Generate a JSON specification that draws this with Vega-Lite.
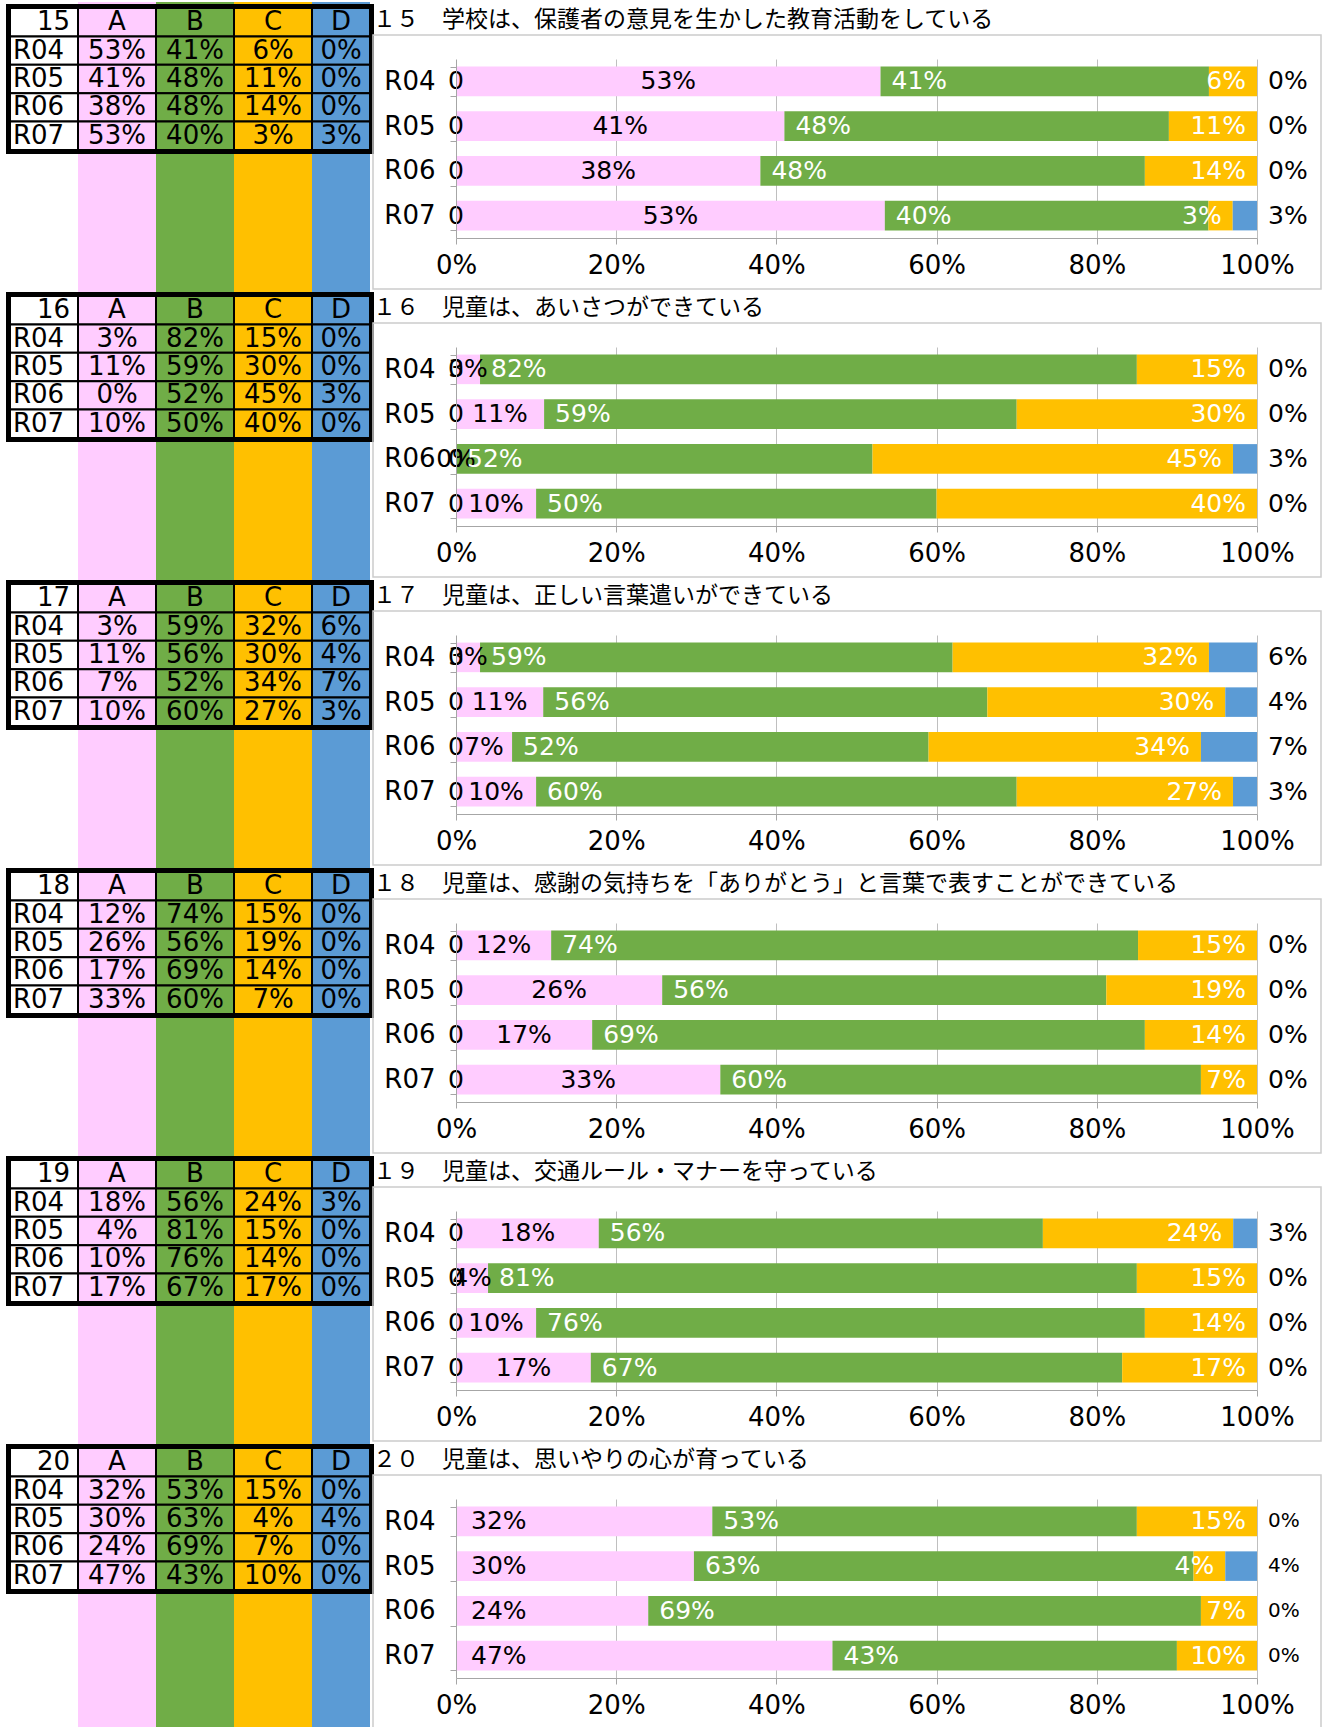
{
"$schema": "https://vega.github.io/schema/vega-lite/v6.json",
"padding": {"top": -12, "left": 0, "right": 0, "bottom": 0},
"datasets": {"d": [
{"p":15,"yr":"ttl","cat":"ttl","t":"１５　学校は、保護者の意見を生かした教育活動をしている"},
{"p":15,"yr":"hdr","cat":"lbl"},{"p":15,"yr":"hdr","cat":"A"},{"p":15,"yr":"hdr","cat":"B"},{"p":15,"yr":"hdr","cat":"C"},{"p":15,"yr":"hdr","cat":"D"},
{"p":15,"yr":"R04","cat":"lbl"},{"p":15,"yr":"R05","cat":"lbl"},{"p":15,"yr":"R06","cat":"lbl"},{"p":15,"yr":"R07","cat":"lbl"},
{"p":15,"yr":"R04","cat":"A","v":0.53},{"p":15,"yr":"R04","cat":"B","v":0.41},{"p":15,"yr":"R04","cat":"C","v":0.06},{"p":15,"yr":"R04","cat":"D","v":0},
{"p":15,"yr":"R05","cat":"A","v":0.41},{"p":15,"yr":"R05","cat":"B","v":0.48},{"p":15,"yr":"R05","cat":"C","v":0.11},{"p":15,"yr":"R05","cat":"D","v":0},
{"p":15,"yr":"R06","cat":"A","v":0.38},{"p":15,"yr":"R06","cat":"B","v":0.48},{"p":15,"yr":"R06","cat":"C","v":0.14},{"p":15,"yr":"R06","cat":"D","v":0},
{"p":15,"yr":"R07","cat":"A","v":0.53},{"p":15,"yr":"R07","cat":"B","v":0.40},{"p":15,"yr":"R07","cat":"C","v":0.03},{"p":15,"yr":"R07","cat":"D","v":0.03},
{"p":15,"yr":"R04","cat":"E","v":0},{"p":15,"yr":"R05","cat":"E","v":0},{"p":15,"yr":"R06","cat":"E","v":0},{"p":15,"yr":"R07","cat":"E","v":0},

{"p":16,"yr":"ttl","cat":"ttl","t":"１６　児童は、あいさつができている"},
{"p":16,"yr":"hdr","cat":"lbl"},{"p":16,"yr":"hdr","cat":"A"},{"p":16,"yr":"hdr","cat":"B"},{"p":16,"yr":"hdr","cat":"C"},{"p":16,"yr":"hdr","cat":"D"},
{"p":16,"yr":"R04","cat":"lbl"},{"p":16,"yr":"R05","cat":"lbl"},{"p":16,"yr":"R06","cat":"lbl"},{"p":16,"yr":"R07","cat":"lbl"},
{"p":16,"yr":"R04","cat":"A","v":0.03},{"p":16,"yr":"R04","cat":"B","v":0.82},{"p":16,"yr":"R04","cat":"C","v":0.15},{"p":16,"yr":"R04","cat":"D","v":0},
{"p":16,"yr":"R05","cat":"A","v":0.11},{"p":16,"yr":"R05","cat":"B","v":0.59},{"p":16,"yr":"R05","cat":"C","v":0.30},{"p":16,"yr":"R05","cat":"D","v":0},
{"p":16,"yr":"R06","cat":"A","v":0},{"p":16,"yr":"R06","cat":"B","v":0.52},{"p":16,"yr":"R06","cat":"C","v":0.45},{"p":16,"yr":"R06","cat":"D","v":0.03},
{"p":16,"yr":"R07","cat":"A","v":0.10},{"p":16,"yr":"R07","cat":"B","v":0.50},{"p":16,"yr":"R07","cat":"C","v":0.40},{"p":16,"yr":"R07","cat":"D","v":0},
{"p":16,"yr":"R04","cat":"E","v":0},{"p":16,"yr":"R05","cat":"E","v":0},{"p":16,"yr":"R06","cat":"E","v":0},{"p":16,"yr":"R07","cat":"E","v":0},

{"p":17,"yr":"ttl","cat":"ttl","t":"１７　児童は、正しい言葉遣いができている"},
{"p":17,"yr":"hdr","cat":"lbl"},{"p":17,"yr":"hdr","cat":"A"},{"p":17,"yr":"hdr","cat":"B"},{"p":17,"yr":"hdr","cat":"C"},{"p":17,"yr":"hdr","cat":"D"},
{"p":17,"yr":"R04","cat":"lbl"},{"p":17,"yr":"R05","cat":"lbl"},{"p":17,"yr":"R06","cat":"lbl"},{"p":17,"yr":"R07","cat":"lbl"},
{"p":17,"yr":"R04","cat":"A","v":0.03},{"p":17,"yr":"R04","cat":"B","v":0.59},{"p":17,"yr":"R04","cat":"C","v":0.32},{"p":17,"yr":"R04","cat":"D","v":0.06},
{"p":17,"yr":"R05","cat":"A","v":0.11},{"p":17,"yr":"R05","cat":"B","v":0.56},{"p":17,"yr":"R05","cat":"C","v":0.30},{"p":17,"yr":"R05","cat":"D","v":0.04},
{"p":17,"yr":"R06","cat":"A","v":0.07},{"p":17,"yr":"R06","cat":"B","v":0.52},{"p":17,"yr":"R06","cat":"C","v":0.34},{"p":17,"yr":"R06","cat":"D","v":0.07},
{"p":17,"yr":"R07","cat":"A","v":0.10},{"p":17,"yr":"R07","cat":"B","v":0.60},{"p":17,"yr":"R07","cat":"C","v":0.27},{"p":17,"yr":"R07","cat":"D","v":0.03},
{"p":17,"yr":"R04","cat":"E","v":0},{"p":17,"yr":"R05","cat":"E","v":0},{"p":17,"yr":"R06","cat":"E","v":0},{"p":17,"yr":"R07","cat":"E","v":0},

{"p":18,"yr":"ttl","cat":"ttl","t":"１８　児童は、感謝の気持ちを「ありがとう」と言葉で表すことができている"},
{"p":18,"yr":"hdr","cat":"lbl"},{"p":18,"yr":"hdr","cat":"A"},{"p":18,"yr":"hdr","cat":"B"},{"p":18,"yr":"hdr","cat":"C"},{"p":18,"yr":"hdr","cat":"D"},
{"p":18,"yr":"R04","cat":"lbl"},{"p":18,"yr":"R05","cat":"lbl"},{"p":18,"yr":"R06","cat":"lbl"},{"p":18,"yr":"R07","cat":"lbl"},
{"p":18,"yr":"R04","cat":"A","v":0.12},{"p":18,"yr":"R04","cat":"B","v":0.74},{"p":18,"yr":"R04","cat":"C","v":0.15},{"p":18,"yr":"R04","cat":"D","v":0},
{"p":18,"yr":"R05","cat":"A","v":0.26},{"p":18,"yr":"R05","cat":"B","v":0.56},{"p":18,"yr":"R05","cat":"C","v":0.19},{"p":18,"yr":"R05","cat":"D","v":0},
{"p":18,"yr":"R06","cat":"A","v":0.17},{"p":18,"yr":"R06","cat":"B","v":0.69},{"p":18,"yr":"R06","cat":"C","v":0.14},{"p":18,"yr":"R06","cat":"D","v":0},
{"p":18,"yr":"R07","cat":"A","v":0.33},{"p":18,"yr":"R07","cat":"B","v":0.60},{"p":18,"yr":"R07","cat":"C","v":0.07},{"p":18,"yr":"R07","cat":"D","v":0},
{"p":18,"yr":"R04","cat":"E","v":0},{"p":18,"yr":"R05","cat":"E","v":0},{"p":18,"yr":"R06","cat":"E","v":0},{"p":18,"yr":"R07","cat":"E","v":0},

{"p":19,"yr":"ttl","cat":"ttl","t":"１９　児童は、交通ルール・マナーを守っている"},
{"p":19,"yr":"hdr","cat":"lbl"},{"p":19,"yr":"hdr","cat":"A"},{"p":19,"yr":"hdr","cat":"B"},{"p":19,"yr":"hdr","cat":"C"},{"p":19,"yr":"hdr","cat":"D"},
{"p":19,"yr":"R04","cat":"lbl"},{"p":19,"yr":"R05","cat":"lbl"},{"p":19,"yr":"R06","cat":"lbl"},{"p":19,"yr":"R07","cat":"lbl"},
{"p":19,"yr":"R04","cat":"A","v":0.18},{"p":19,"yr":"R04","cat":"B","v":0.56},{"p":19,"yr":"R04","cat":"C","v":0.24},{"p":19,"yr":"R04","cat":"D","v":0.03},
{"p":19,"yr":"R05","cat":"A","v":0.04},{"p":19,"yr":"R05","cat":"B","v":0.81},{"p":19,"yr":"R05","cat":"C","v":0.15},{"p":19,"yr":"R05","cat":"D","v":0},
{"p":19,"yr":"R06","cat":"A","v":0.10},{"p":19,"yr":"R06","cat":"B","v":0.76},{"p":19,"yr":"R06","cat":"C","v":0.14},{"p":19,"yr":"R06","cat":"D","v":0},
{"p":19,"yr":"R07","cat":"A","v":0.17},{"p":19,"yr":"R07","cat":"B","v":0.67},{"p":19,"yr":"R07","cat":"C","v":0.17},{"p":19,"yr":"R07","cat":"D","v":0},
{"p":19,"yr":"R04","cat":"E","v":0},{"p":19,"yr":"R05","cat":"E","v":0},{"p":19,"yr":"R06","cat":"E","v":0},{"p":19,"yr":"R07","cat":"E","v":0},

{"p":20,"yr":"ttl","cat":"ttl","t":"２０　児童は、思いやりの心が育っている"},
{"p":20,"yr":"hdr","cat":"lbl"},{"p":20,"yr":"hdr","cat":"A"},{"p":20,"yr":"hdr","cat":"B"},{"p":20,"yr":"hdr","cat":"C"},{"p":20,"yr":"hdr","cat":"D"},
{"p":20,"yr":"R04","cat":"lbl"},{"p":20,"yr":"R05","cat":"lbl"},{"p":20,"yr":"R06","cat":"lbl"},{"p":20,"yr":"R07","cat":"lbl"},
{"p":20,"yr":"R04","cat":"A","v":0.32},{"p":20,"yr":"R04","cat":"B","v":0.53},{"p":20,"yr":"R04","cat":"C","v":0.15},{"p":20,"yr":"R04","cat":"D","v":0},
{"p":20,"yr":"R05","cat":"A","v":0.30},{"p":20,"yr":"R05","cat":"B","v":0.63},{"p":20,"yr":"R05","cat":"C","v":0.04},{"p":20,"yr":"R05","cat":"D","v":0.04},
{"p":20,"yr":"R06","cat":"A","v":0.24},{"p":20,"yr":"R06","cat":"B","v":0.69},{"p":20,"yr":"R06","cat":"C","v":0.07},{"p":20,"yr":"R06","cat":"D","v":0},
{"p":20,"yr":"R07","cat":"A","v":0.47},{"p":20,"yr":"R07","cat":"B","v":0.43},{"p":20,"yr":"R07","cat":"C","v":0.10},{"p":20,"yr":"R07","cat":"D","v":0}
]},
"data": {"name": "d"},
"facet": {"row": {"field": "p", "type": "ordinal", "header": {"labels": false, "title": null}}},
"spacing": {"row": 0},
"bounds": "flush",
"resolve": {"scale": {"x": "independent", "y": "independent"}, "axis": {"x": "independent", "y": "independent"}},
"spec": {
"width": 1320, "height": 288,
"view": {"stroke": "transparent"},
"resolve": {"scale": {"x": "independent", "y": "independent"}, "axis": {"x": "independent", "y": "independent"}},
"layer": [
{"transform": [{"filter": "datum.yr === 'hdr' && indexof(['A','B','C'], datum.cat) >= 0"}],
 "mark": "rect",
 "encoding": {
  "x": {"field": "cat", "type": "nominal", "scale": {"type": "band", "domain": ["A","B","C"], "range": [77,311], "paddingInner": 0, "paddingOuter": 0}, "axis": null},
  "color": {"field": "cat", "type": "nominal", "scale": {"domain": ["A","B","C","D"], "range": ["#FFCCFF","#70AD47","#FFC000","#5B9BD5"]}, "legend": null}}},
{"transform": [{"filter": "datum.yr === 'hdr' && datum.cat === 'D'"}],
 "mark": "rect",
 "encoding": {
  "x": {"field": "cat", "type": "nominal", "scale": {"type": "band", "domain": ["D"], "range": [311,369], "paddingInner": 0, "paddingOuter": 0}, "axis": null},
  "color": {"field": "cat", "type": "nominal", "scale": {"domain": ["A","B","C","D"], "range": ["#FFCCFF","#70AD47","#FFC000","#5B9BD5"]}, "legend": null}}},
{"transform": [{"filter": "datum.cat === 'lbl'"}],
 "mark": {"type": "rect", "fill": "black", "stroke": "black", "strokeWidth": 8},
 "encoding": {
  "x": {"field": "cat", "type": "nominal", "scale": {"type": "band", "domain": ["lbl"], "range": [9,77], "paddingInner": 0, "paddingOuter": 0}, "axis": null},
  "y": {"field": "yr", "type": "nominal", "scale": {"type": "band", "domain": ["hdr","R04","R05","R06","R07"], "range": [6,148], "paddingInner": 0, "paddingOuter": 0}, "axis": null}}},
{"transform": [{"filter": "indexof(['A','B','C'], datum.cat) >= 0"}],
 "mark": {"type": "rect", "fill": "black", "stroke": "black", "strokeWidth": 8},
 "encoding": {
  "x": {"field": "cat", "type": "nominal", "scale": {"type": "band", "domain": ["A","B","C"], "range": [77,311], "paddingInner": 0, "paddingOuter": 0}, "axis": null},
  "y": {"field": "yr", "type": "nominal", "scale": {"type": "band", "domain": ["hdr","R04","R05","R06","R07"], "range": [6,148], "paddingInner": 0, "paddingOuter": 0}, "axis": null}}},
{"transform": [{"filter": "datum.cat === 'D'"}],
 "mark": {"type": "rect", "fill": "black", "stroke": "black", "strokeWidth": 8},
 "encoding": {
  "x": {"field": "cat", "type": "nominal", "scale": {"type": "band", "domain": ["D"], "range": [311,369], "paddingInner": 0, "paddingOuter": 0}, "axis": null},
  "y": {"field": "yr", "type": "nominal", "scale": {"type": "band", "domain": ["hdr","R04","R05","R06","R07"], "range": [6,148], "paddingInner": 0, "paddingOuter": 0}, "axis": null}}},
{"transform": [{"filter": "datum.cat === 'lbl'"}],
 "mark": {"type": "rect", "fill": "white", "stroke": "black", "strokeWidth": 2},
 "encoding": {
  "x": {"field": "cat", "type": "nominal", "scale": {"type": "band", "domain": ["lbl"], "range": [9,77], "paddingInner": 0, "paddingOuter": 0}, "axis": null},
  "y": {"field": "yr", "type": "nominal", "scale": {"type": "band", "domain": ["hdr","R04","R05","R06","R07"], "range": [6,148], "paddingInner": 0, "paddingOuter": 0}, "axis": null}}},
{"transform": [{"filter": "indexof(['A','B','C'], datum.cat) >= 0"}],
 "mark": {"type": "rect", "stroke": "black", "strokeWidth": 2},
 "encoding": {
  "x": {"field": "cat", "type": "nominal", "scale": {"type": "band", "domain": ["A","B","C"], "range": [77,311], "paddingInner": 0, "paddingOuter": 0}, "axis": null},
  "y": {"field": "yr", "type": "nominal", "scale": {"type": "band", "domain": ["hdr","R04","R05","R06","R07"], "range": [6,148], "paddingInner": 0, "paddingOuter": 0}, "axis": null},
  "color": {"field": "cat", "type": "nominal", "scale": {"domain": ["A","B","C","D"], "range": ["#FFCCFF","#70AD47","#FFC000","#5B9BD5"]}, "legend": null}}},
{"transform": [{"filter": "datum.cat === 'D'"}],
 "mark": {"type": "rect", "stroke": "black", "strokeWidth": 2},
 "encoding": {
  "x": {"field": "cat", "type": "nominal", "scale": {"type": "band", "domain": ["D"], "range": [311,369], "paddingInner": 0, "paddingOuter": 0}, "axis": null},
  "y": {"field": "yr", "type": "nominal", "scale": {"type": "band", "domain": ["hdr","R04","R05","R06","R07"], "range": [6,148], "paddingInner": 0, "paddingOuter": 0}, "axis": null},
  "color": {"field": "cat", "type": "nominal", "scale": {"domain": ["A","B","C","D"], "range": ["#FFCCFF","#70AD47","#FFC000","#5B9BD5"]}, "legend": null}}},
{"transform": [{"filter": "datum.yr === 'hdr' && datum.cat === 'lbl'"}],
 "mark": {"type": "text", "align": "right", "baseline": "middle", "dx": -8, "fontSize": 26, "color": "black"},
 "encoding": {
  "x": {"field": "cat", "type": "nominal", "bandPosition": 1, "scale": {"type": "band", "domain": ["lbl"], "range": [9,77], "paddingInner": 0, "paddingOuter": 0}, "axis": null},
  "y": {"field": "yr", "type": "nominal", "scale": {"type": "band", "domain": ["hdr","R04","R05","R06","R07"], "range": [6,148], "paddingInner": 0, "paddingOuter": 0}, "axis": null},
  "text": {"field": "p", "type": "nominal"}}},
{"transform": [{"filter": "datum.yr !== 'hdr' && datum.cat === 'lbl'"}],
 "mark": {"type": "text", "align": "left", "baseline": "middle", "dx": 3, "fontSize": 26, "color": "black"},
 "encoding": {
  "x": {"field": "cat", "type": "nominal", "bandPosition": 0, "scale": {"type": "band", "domain": ["lbl"], "range": [9,77], "paddingInner": 0, "paddingOuter": 0}, "axis": null},
  "y": {"field": "yr", "type": "nominal", "scale": {"type": "band", "domain": ["hdr","R04","R05","R06","R07"], "range": [6,148], "paddingInner": 0, "paddingOuter": 0}, "axis": null},
  "text": {"field": "yr", "type": "nominal"}}},
{"transform": [{"filter": "datum.yr === 'hdr' && indexof(['A','B','C'], datum.cat) >= 0"}],
 "mark": {"type": "text", "align": "center", "baseline": "middle", "fontSize": 26, "color": "black"},
 "encoding": {
  "x": {"field": "cat", "type": "nominal", "scale": {"type": "band", "domain": ["A","B","C"], "range": [77,311], "paddingInner": 0, "paddingOuter": 0}, "axis": null},
  "y": {"field": "yr", "type": "nominal", "scale": {"type": "band", "domain": ["hdr","R04","R05","R06","R07"], "range": [6,148], "paddingInner": 0, "paddingOuter": 0}, "axis": null},
  "text": {"field": "cat", "type": "nominal"}}},
{"transform": [{"filter": "datum.yr !== 'hdr' && indexof(['A','B','C'], datum.cat) >= 0"}],
 "mark": {"type": "text", "align": "center", "baseline": "middle", "fontSize": 26, "color": "black"},
 "encoding": {
  "x": {"field": "cat", "type": "nominal", "scale": {"type": "band", "domain": ["A","B","C"], "range": [77,311], "paddingInner": 0, "paddingOuter": 0}, "axis": null},
  "y": {"field": "yr", "type": "nominal", "scale": {"type": "band", "domain": ["hdr","R04","R05","R06","R07"], "range": [6,148], "paddingInner": 0, "paddingOuter": 0}, "axis": null},
  "text": {"field": "v", "type": "quantitative", "format": ".0%"}}},
{"transform": [{"filter": "datum.yr === 'hdr' && datum.cat === 'D'"}],
 "mark": {"type": "text", "align": "center", "baseline": "middle", "fontSize": 26, "color": "black"},
 "encoding": {
  "x": {"field": "cat", "type": "nominal", "scale": {"type": "band", "domain": ["D"], "range": [311,369], "paddingInner": 0, "paddingOuter": 0}, "axis": null},
  "y": {"field": "yr", "type": "nominal", "scale": {"type": "band", "domain": ["hdr","R04","R05","R06","R07"], "range": [6,148], "paddingInner": 0, "paddingOuter": 0}, "axis": null},
  "text": {"field": "cat", "type": "nominal"}}},
{"transform": [{"filter": "datum.yr !== 'hdr' && datum.cat === 'D'"}],
 "mark": {"type": "text", "align": "center", "baseline": "middle", "fontSize": 26, "color": "black"},
 "encoding": {
  "x": {"field": "cat", "type": "nominal", "scale": {"type": "band", "domain": ["D"], "range": [311,369], "paddingInner": 0, "paddingOuter": 0}, "axis": null},
  "y": {"field": "yr", "type": "nominal", "scale": {"type": "band", "domain": ["hdr","R04","R05","R06","R07"], "range": [6,148], "paddingInner": 0, "paddingOuter": 0}, "axis": null},
  "text": {"field": "v", "type": "quantitative", "format": ".0%"}}},
{"transform": [{"filter": "datum.yr === 'ttl'"}],
 "mark": {"type": "rect", "filled": false, "stroke": "#cccccc", "strokeWidth": 1.5},
 "encoding": {
  "x": {"field": "yr", "type": "nominal", "scale": {"type": "band", "domain": ["ttl"], "range": [372,1320], "paddingInner": 0, "paddingOuter": 0}, "axis": null},
  "y": {"field": "yr", "type": "nominal", "scale": {"type": "band", "domain": ["ttl"], "range": [33,287], "paddingInner": 0, "paddingOuter": 0}, "axis": null}}},
{"transform": [{"filter": "datum.yr === 'ttl'"}],
 "mark": {"type": "text", "align": "left", "baseline": "middle", "font": "Noto Sans CJK JP", "fontSize": 23, "color": "black"},
 "encoding": {
  "x": {"field": "yr", "type": "nominal", "bandPosition": 0, "scale": {"type": "band", "domain": ["ttl"], "range": [372,1320], "paddingInner": 0, "paddingOuter": 0}, "axis": null},
  "y": {"field": "yr", "type": "nominal", "scale": {"type": "band", "domain": ["ttl"], "range": [1,35], "paddingInner": 0, "paddingOuter": 0}, "axis": null},
  "text": {"field": "t", "type": "nominal"}}},
{"transform": [{"filter": "indexof(['A','B','C','D'], datum.cat) >= 0 && datum.yr !== 'hdr'"}],
 "mark": "bar",
 "encoding": {
  "x": {"field": "v", "type": "quantitative", "stack": "normalize",
    "scale": {"domain": [0,1], "range": [455,1256], "nice": false, "zero": false},
    "axis": {"orient": "bottom", "zindex": 1, "title": null, "values": [0,0.2,0.4,0.6,0.8,1], "format": ".0%", "offset": -52, "grid": false, "domainColor": "#a6a6a6", "tickColor": "#a6a6a6", "tickSize": 6, "labelPadding": 8, "labelFontSize": 26, "labelColor": "black", "labelFlush": false, "labelOverlap": false}},
  "y": {"field": "yr", "type": "nominal",
    "scale": {"type": "band", "domain": ["R04","R05","R06","R07"], "range": [57,236], "paddingInner": 0.34, "paddingOuter": 0.17},
    "axis": {"orient": "left", "zindex": 1, "title": null, "offset": -455, "tickBand": "extent", "tickSize": 6, "labelPadding": 15, "labelFontSize": 26, "labelColor": "black", "domainColor": "#a6a6a6", "tickColor": "#a6a6a6", "grid": false}},
  "color": {"field": "cat", "type": "nominal", "scale": {"domain": ["A","B","C","D"], "range": ["#FFCCFF","#70AD47","#FFC000","#5B9BD5"]}, "legend": null},
  "order": {"field": "cat", "type": "nominal", "sort": "ascending"}}},
{"transform": [{"filter": "datum.cat === 'E'"}],
 "mark": {"type": "text", "fontSize": 25, "color": "black", "align": "center", "baseline": "middle"},
 "encoding": {
  "x": {"field": "v", "type": "quantitative", "scale": {"domain": [0,1], "range": [455,1256], "nice": false, "zero": false},
    "axis": {"orient": "bottom", "zindex": 0, "title": null, "values": [0.2,0.4,0.6,0.8,1], "offset": -52, "labels": false, "domain": false, "grid": false, "ticks": true, "tickSize": -179, "tickColor": "#bfbfbf", "tickWidth": 1}},
  "y": {"field": "yr", "type": "nominal", "scale": {"type": "band", "domain": ["R04","R05","R06","R07"], "range": [57,236], "paddingInner": 0.34, "paddingOuter": 0.17}, "axis": null},
  "text": {"field": "v", "type": "quantitative", "format": "d"}}},
{"transform": [{"filter": "indexof(['A','B','C','D'], datum.cat) >= 0 && datum.yr !== 'hdr' && datum.p !== 20"}],
 "mark": {"type": "text", "fontSize": 25, "color": "black", "align": "center", "baseline": "middle"},
 "encoding": {
  "x": {"field": "v", "type": "quantitative", "stack": "normalize", "bandPosition": 0.5, "scale": {"domain": [0,1], "range": [455,1256], "nice": false, "zero": false}, "axis": null},
  "y": {"field": "yr", "type": "nominal", "scale": {"type": "band", "domain": ["R04","R05","R06","R07"], "range": [57,236], "paddingInner": 0.34, "paddingOuter": 0.17}, "axis": null},
  "detail": {"field": "cat", "type": "nominal"},
  "order": {"field": "cat", "type": "nominal", "sort": "ascending"},
  "text": {"condition": {"test": "datum.cat === 'A'", "field": "v", "type": "quantitative", "format": ".0%"}, "value": ""}}},
{"transform": [{"filter": "indexof(['A','B','C','D'], datum.cat) >= 0 && datum.yr !== 'hdr' && datum.p === 20"}],
 "mark": {"type": "text", "fontSize": 25, "color": "black", "align": "left", "baseline": "middle", "dx": 15},
 "encoding": {
  "x": {"field": "v", "type": "quantitative", "stack": "normalize", "bandPosition": 0, "scale": {"domain": [0,1], "range": [455,1256], "nice": false, "zero": false}, "axis": null},
  "y": {"field": "yr", "type": "nominal", "scale": {"type": "band", "domain": ["R04","R05","R06","R07"], "range": [57,236], "paddingInner": 0.34, "paddingOuter": 0.17}, "axis": null},
  "detail": {"field": "cat", "type": "nominal"},
  "order": {"field": "cat", "type": "nominal", "sort": "ascending"},
  "text": {"condition": {"test": "datum.cat === 'A'", "field": "v", "type": "quantitative", "format": ".0%"}, "value": ""}}},
{"transform": [{"filter": "indexof(['A','B','C','D'], datum.cat) >= 0 && datum.yr !== 'hdr'"}],
 "mark": {"type": "text", "fontSize": 25, "color": "white", "align": "left", "baseline": "middle", "dx": 11},
 "encoding": {
  "x": {"field": "v", "type": "quantitative", "stack": "normalize", "bandPosition": 0, "scale": {"domain": [0,1], "range": [455,1256], "nice": false, "zero": false}, "axis": null},
  "y": {"field": "yr", "type": "nominal", "scale": {"type": "band", "domain": ["R04","R05","R06","R07"], "range": [57,236], "paddingInner": 0.34, "paddingOuter": 0.17}, "axis": null},
  "detail": {"field": "cat", "type": "nominal"},
  "order": {"field": "cat", "type": "nominal", "sort": "ascending"},
  "text": {"condition": {"test": "datum.cat === 'B'", "field": "v", "type": "quantitative", "format": ".0%"}, "value": ""}}},
{"transform": [{"filter": "indexof(['A','B','C','D'], datum.cat) >= 0 && datum.yr !== 'hdr'"}],
 "mark": {"type": "text", "fontSize": 25, "color": "white", "align": "right", "baseline": "middle", "dx": -11},
 "encoding": {
  "x": {"field": "v", "type": "quantitative", "stack": "normalize", "bandPosition": 1, "scale": {"domain": [0,1], "range": [455,1256], "nice": false, "zero": false}, "axis": null},
  "y": {"field": "yr", "type": "nominal", "scale": {"type": "band", "domain": ["R04","R05","R06","R07"], "range": [57,236], "paddingInner": 0.34, "paddingOuter": 0.17}, "axis": null},
  "detail": {"field": "cat", "type": "nominal"},
  "order": {"field": "cat", "type": "nominal", "sort": "ascending"},
  "text": {"condition": {"test": "datum.cat === 'C'", "field": "v", "type": "quantitative", "format": ".0%"}, "value": ""}}},
{"transform": [{"filter": "indexof(['A','B','C','D'], datum.cat) >= 0 && datum.yr !== 'hdr'"}],
 "mark": {"type": "text", "color": "black", "align": "left", "baseline": "middle", "dx": 11},
 "encoding": {
  "x": {"field": "v", "type": "quantitative", "stack": "normalize", "bandPosition": 1, "scale": {"domain": [0,1], "range": [455,1256], "nice": false, "zero": false}, "axis": null},
  "y": {"field": "yr", "type": "nominal", "scale": {"type": "band", "domain": ["R04","R05","R06","R07"], "range": [57,236], "paddingInner": 0.34, "paddingOuter": 0.17}, "axis": null},
  "detail": {"field": "cat", "type": "nominal"},
  "order": {"field": "cat", "type": "nominal", "sort": "ascending"},
  "size": {"condition": {"test": "datum.p === 20", "value": 20}, "value": 25},
  "text": {"condition": {"test": "datum.cat === 'D'", "field": "v", "type": "quantitative", "format": ".0%"}, "value": ""}}}
]
},
"config": {
 "font": "DejaVu Sans",
 "view": {"stroke": "transparent"},
 "text": {"font": "DejaVu Sans"},
 "axis": {"labelFont": "DejaVu Sans"},
 "facet": {"spacing": 0}
}
}
